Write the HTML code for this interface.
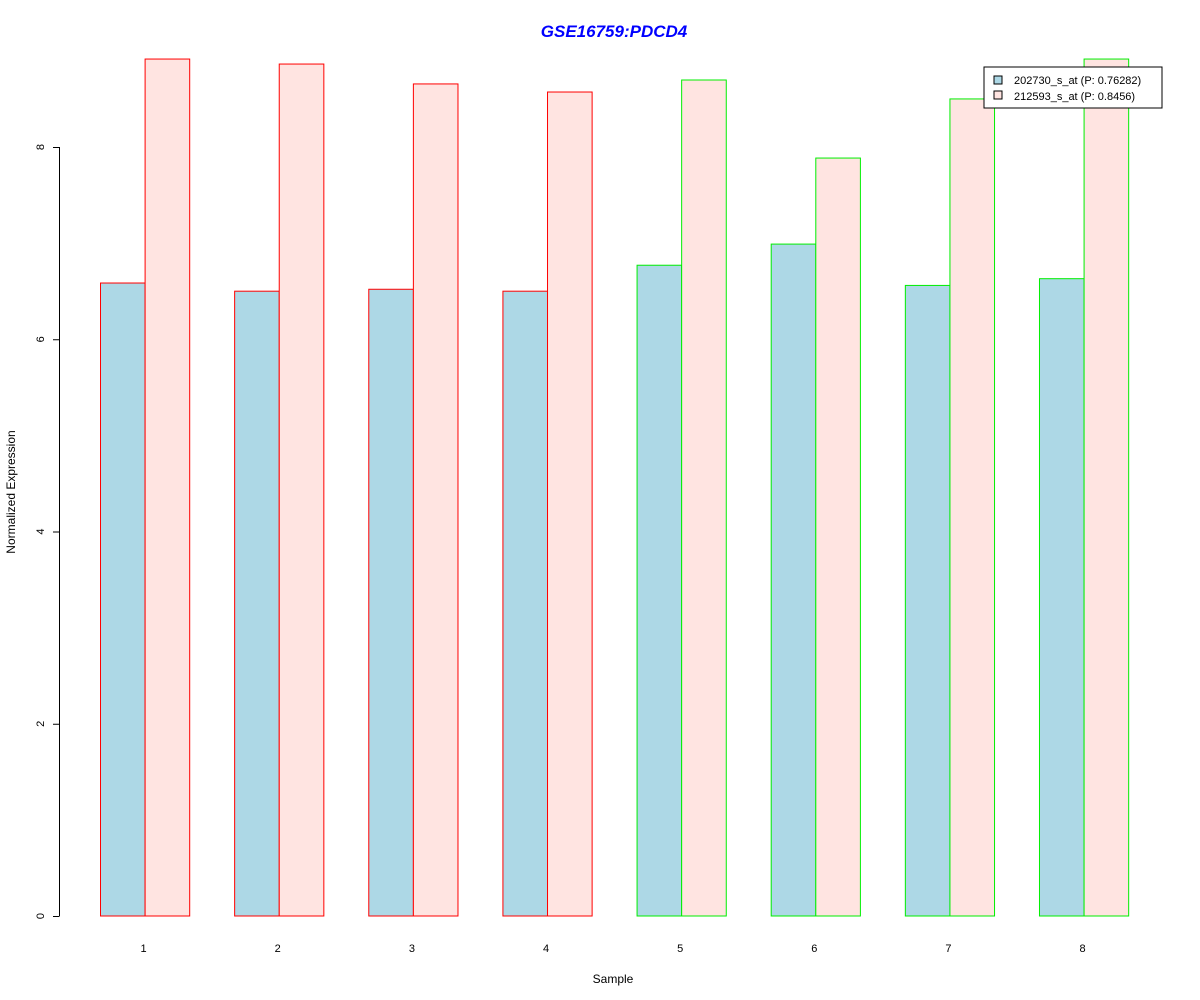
<!DOCTYPE html>
<html><head><meta charset="utf-8"><style>body{margin:0;background:#fff}svg{display:block;font-family:"Liberation Sans",Arial,sans-serif}</style></head>
<body>
<svg id="chart" width="1200" height="1000" viewBox="0 0 1200 1000">
<rect width="1200" height="1000" fill="#fff"/>
<text x="614" y="37" text-anchor="middle" font-size="17" font-weight="bold" font-style="italic" fill="#0000ff">GSE16759:PDCD4</text>
<text x="613" y="983" text-anchor="middle" font-size="12">Sample</text>
<text transform="translate(15,492) rotate(-90)" text-anchor="middle" font-size="12">Normalized Expression</text>
<g id="bars"></g>
<g id="axis"></g>
<g>
<rect x="984" y="67" width="178" height="41" fill="#fff" stroke="#000"/>
<rect x="994" y="76" width="8" height="8" fill="#add8e6" stroke="#000"/>
<text x="1014" y="84" font-size="11">202730_s_at (P: 0.76282)</text>
<rect x="994" y="91" width="8" height="8" fill="#ffe4e1" stroke="#000"/>
<text x="1014" y="100" font-size="11">212593_s_at (P: 0.8456)</text>
</g>
</svg>
<script>
const samples = ["1","2","3","4","5","6","7","8"];
const series1 = [6.585, 6.50, 6.52, 6.50, 6.77, 6.99, 6.56, 6.63];
const series2 = [8.915, 8.863, 8.656, 8.572, 8.697, 7.885, 8.50, 8.915];
const groupColor = ["red","red","red","red","green","green","green","green"];
const yTicks = [0, 2, 4, 6, 8];
const NS = "http://www.w3.org/2000/svg";
function y(v){ return 916 - v * 96.125; }
function xg(i){ return 100 + i * 134.14; }
const bw = 44.6;
const strokeMap = {red:"#ff0000", green:"#00ee00"};
const bars = document.getElementById("bars");
samples.forEach((s, i) => {
  [series1[i], series2[i]].forEach((v, j) => {
    const r = document.createElementNS(NS, "rect");
    
    
    r.setAttribute("x", xg(i) + j * bw + 0.5);
    r.setAttribute("y", y(v));
    r.setAttribute("width", bw);
    r.setAttribute("height", y(0) - y(v));
    r.setAttribute("fill", j === 0 ? "#add8e6" : "#ffe4e1");
    r.setAttribute("stroke", strokeMap[groupColor[i]]);
    bars.appendChild(r);
  });
  const t = document.createElementNS(NS, "text");
  
  
  t.setAttribute("x", xg(i) + bw - 1);
  t.setAttribute("y", 952);
  t.setAttribute("text-anchor", "middle");
  t.setAttribute("font-size", "11");
  t.textContent = s;
  bars.appendChild(t);
});
const ax = document.getElementById("axis");
const line = document.createElementNS(NS, "line");


line.setAttribute("x1", 59.5); line.setAttribute("x2", 59.5);
line.setAttribute("y1", y(yTicks[0])); line.setAttribute("y2", y(yTicks[yTicks.length - 1]));
line.setAttribute("stroke", "#000");
ax.appendChild(line);
yTicks.forEach(v => {
  const tk = document.createElementNS(NS, "line");
  
  
  tk.setAttribute("x1", 53); tk.setAttribute("x2", 59.5);
  tk.setAttribute("y1", y(v) + 0.5); tk.setAttribute("y2", y(v) + 0.5);
  tk.setAttribute("stroke", "#000");
  ax.appendChild(tk);
  const t = document.createElementNS(NS, "text");
  
  
  t.setAttribute("transform", "translate(44," + y(v) + ") rotate(-90)");
  t.setAttribute("text-anchor", "middle");
  t.setAttribute("font-size", "11");
  t.textContent = v;
  ax.appendChild(t);
});
</script>
</body></html>
